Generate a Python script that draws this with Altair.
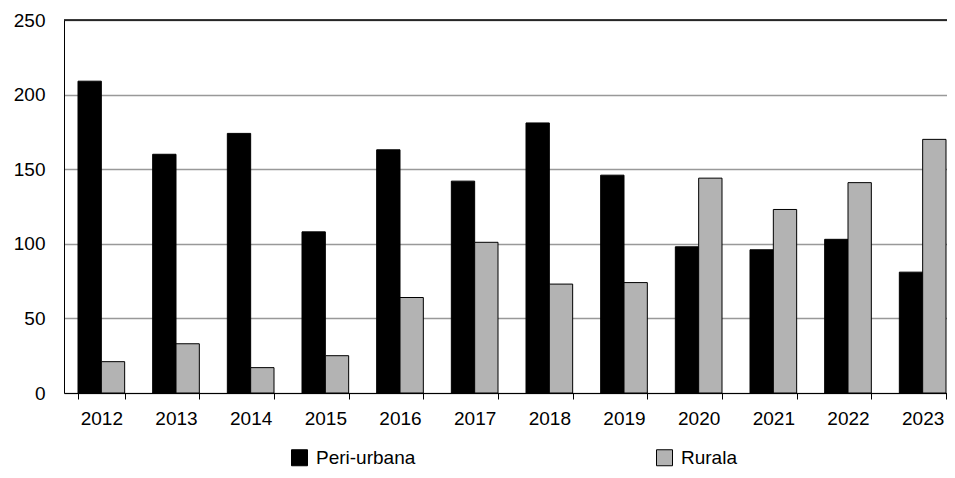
import altair as alt
import pandas as pd

years = ["2012", "2013", "2014", "2015", "2016", "2017", "2018", "2019", "2020", "2021", "2022", "2023"]
peri_urbana = [209, 160, 174, 108, 163, 142, 181, 146, 98, 96, 103, 81]
rurala = [21, 33, 17, 25, 64, 101, 73, 74, 144, 123, 141, 170]
series = ["Peri-urbana", "Rurala"]
colors = ["#000000", "#b3b3b3"]
y_ticks = [0, 50, 100, 150, 200, 250]
y_max = [250]

rows = []
for i, yr in enumerate(years):
    rows.append({"year": yr, "series": series[0], "value": peri_urbana[i]})
    rows.append({"year": yr, "series": series[1], "value": rurala[i]})
df = pd.DataFrame(rows)

FONT = "Liberation Sans"

bars = alt.Chart(df).mark_bar(stroke="black", strokeWidth=1).encode(
    x=alt.X("year:N", sort=years, title=None,
            scale=alt.Scale(paddingInner=0.375, paddingOuter=0.1875, range=[0, 896]),
            axis=alt.Axis(labelAngle=0, labelFontSize=19, labelFont=FONT, labelColor="black",
                          tickColor="black", tickSize=6, tickBand="extent",
                          domainColor="black", labelPadding=10, grid=False)),
    xOffset=alt.XOffset("series:N", sort=series, scale=alt.Scale(paddingInner=0, paddingOuter=0)),
    y=alt.Y("value:Q", title=None,
            scale=alt.Scale(domain=[0, 250], nice=False),
            axis=alt.Axis(values=y_ticks, labelFontSize=19, labelFont=FONT, labelColor="black",
                          ticks=False, labelPadding=19, domainColor="black",
                          gridColor="#999999", gridWidth=1.5)),
    color=alt.Color("series:N", sort=series, title=None,
                    scale=alt.Scale(domain=series, range=colors),
                    legend=alt.Legend(orient="none", legendX=226, legendY=428, direction="horizontal",
                                      columns=2, columnPadding=238, symbolType="square",
                                      symbolSize=256, symbolStrokeColor="black", symbolStrokeWidth=1,
                                      labelFontSize=19, labelFont=FONT, labelColor="black",
                                      labelOffset=7, padding=0)),
)

top_line = alt.Chart(pd.DataFrame({"v": y_max})).mark_rule(color="black", strokeWidth=1.5).encode(
    y=alt.Y("v:Q")
)

chart = alt.layer(bars, top_line).properties(
    width=883, height=373,
    autosize=alt.AutoSizeParams(type="none"),
    padding={"left": 56, "top": 12, "right": 0, "bottom": 77},
).configure_view(stroke=None)

chart.save("out.html", embed_options={"renderer": "svg", "actions": False})
